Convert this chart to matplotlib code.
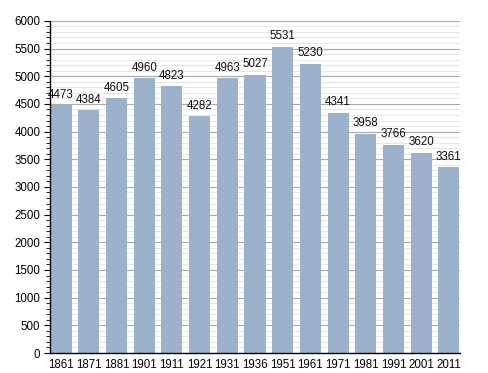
import matplotlib
matplotlib.use("Agg")
import matplotlib.pyplot as plt
from matplotlib.ticker import MultipleLocator

years = ["1861", "1871", "1881", "1901", "1911", "1921", "1931", "1936",
         "1951", "1961", "1971", "1981", "1991", "2001", "2011"]
population = [4473, 4384, 4605, 4960, 4823, 4282, 4963, 5027,
              5531, 5230, 4341, 3958, 3766, 3620, 3361]

plt.rcParams['font.family'] = ['Liberation Sans', 'DejaVu Sans']

fig = plt.figure(figsize=(4.88, 3.73), dpi=100)
ax = fig.add_axes([0.1025, 0.0536, 0.84, 0.8904])

w = 0.76
x = list(range(len(years)))
ax.bar(x, population, width=w, color='#9cb2cc', zorder=3)
for xi, v in zip(x, population):
    ax.text(xi, v + 80, str(v), ha='center', va='bottom', fontsize=8.3, color='#111111', zorder=4)

ax.set_xlim(-w / 2 - 0.02, len(years) - 1 + w / 2 + 0.02)
ax.set_ylim(0, 6000)
ax.set_xticks(x)
ax.set_xticklabels(years)
ax.yaxis.set_major_locator(MultipleLocator(500))
ax.yaxis.set_minor_locator(MultipleLocator(100))
ax.grid(which='major', axis='y', color='#aaaaaa', linewidth=0.8, zorder=1)
ax.grid(which='minor', axis='y', color='#e2e2e2', linewidth=0.6, zorder=0)
for s in ['top', 'right']:
    ax.spines[s].set_visible(False)
ax.spines['left'].set_linewidth(1.0)
ax.spines['bottom'].set_linewidth(1.0)
ax.spines['left'].set_zorder(5)
ax.spines['bottom'].set_zorder(5)
ax.tick_params(axis='x', length=0, labelsize=8.3, pad=4)
ax.tick_params(axis='y', which='major', length=4, direction='out', labelsize=8.3, pad=3)
ax.tick_params(axis='y', which='minor', length=3, direction='out')

fig.savefig('out.png', dpi=100)
